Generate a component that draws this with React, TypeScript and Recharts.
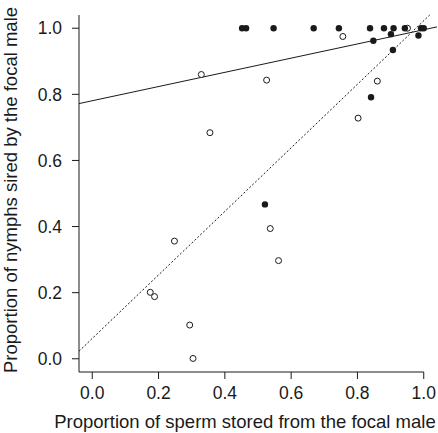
import { ScatterChart, Scatter, XAxis, YAxis, ReferenceLine } from "recharts";

// black dots
const filledX = [0.452, 0.464, 0.547, 0.668, 0.744, 0.838, 0.88, 0.909, 0.943, 0.992, 1.0, 0.901, 0.848, 0.984, 0.907, 0.841, 0.521];
const filledY = [1.0, 1.0, 1.0, 1.0, 1.0, 1.0, 1.0, 1.0, 1.0, 1.0, 1.0, 0.982, 0.962, 0.978, 0.934, 0.791, 0.467];

// open circles
const openX = [0.951, 0.756, 0.329, 0.526, 0.86, 0.802, 0.355, 0.248, 0.537, 0.562, 0.175, 0.188, 0.294, 0.304];
const openY = [1.0, 0.975, 0.86, 0.843, 0.84, 0.728, 0.684, 0.356, 0.394, 0.297, 0.201, 0.188, 0.102, 0.001];

// fitted lines (end points)
const solidLine = [
  { x: -0.04, y: 0.772 },
  { x: 1.04, y: 1.004 },
];
const dottedLine = [
  { x: -0.04, y: 0.023 },
  { x: 1.018, y: 1.04 },
];

const ticks = [0, 0.2, 0.4, 0.6, 0.8, 1.0];

const filled = filledX.map((x, i) => ({ x, y: filledY[i] }));
const open = openX.map((x, i) => ({ x, y: openY[i] }));

const ink = "#1a1a1a";
const font = "'Liberation Sans', Arial, Helvetica, sans-serif";

export default function App() {
  return (
    <div style={{ position: "absolute", left: 0, top: 0, background: "#fff" }}>
      <ScatterChart
        width={438}
        height={433}
        margin={{ top: 15, right: 1, bottom: 0, left: 0 }}
        style={{ fontFamily: font }}
      >
        <XAxis
          type="number"
          dataKey="x"
          domain={[-0.04, 1.04]}
          ticks={ticks}
          tickFormatter={(v) => v.toFixed(1)}
          axisLine={false}
          tickLine={{ stroke: ink }}
          tickSize={7}
          tickMargin={8}
          height={61}
          tick={{ fill: ink, fontSize: 17.5 }}
          label={(p: any) => (
            <text
              x={245}
              y={428}
              textAnchor="middle"
              fill={ink}
              fontSize={18.5}
              fontFamily={font}
            >
              Proportion of sperm stored from the focal male
            </text>
          )}
        />
        <YAxis
          type="number"
          dataKey="y"
          domain={[-0.04, 1.04]}
          ticks={ticks}
          tickFormatter={(v) => v.toFixed(1)}
          axisLine={{ stroke: ink }}
          tickLine={{ stroke: ink }}
          tickSize={7}
          tickMargin={10}
          width={79}
          tick={{ fill: ink, fontSize: 17.5 }}
          label={(p: any) => (
            <text
              x={17}
              y={190}
              transform="rotate(-90 17 190)"
              textAnchor="middle"
              fill={ink}
              fontSize={18.5}
              fontFamily={font}
            >
              Proportion of nymphs sired by the focal male
            </text>
          )}
        />
        <ReferenceLine
          segment={[
            { x: -0.04, y: -0.04 },
            { x: 1.0, y: -0.04 },
          ]}
          stroke={ink}
          ifOverflow="visible"
        />
        <Scatter
          data={dottedLine}
          line={{ stroke: ink, strokeWidth: 1, strokeDasharray: "2 2" }}
          shape={() => <g />}
          isAnimationActive={false}
        />
        <Scatter
          data={solidLine}
          line={{ stroke: ink, strokeWidth: 1 }}
          shape={() => <g />}
          isAnimationActive={false}
        />
        <Scatter
          data={open}
          shape={(p: any) => (
            <circle cx={p.cx} cy={p.cy} r={3} fill="#fff" stroke={ink} strokeWidth={1} />
          )}
          isAnimationActive={false}
        />
        <Scatter
          data={filled}
          shape={(p: any) => <circle cx={p.cx} cy={p.cy} r={3.2} fill={ink} />}
          isAnimationActive={false}
        />
      </ScatterChart>
    </div>
  );
}
